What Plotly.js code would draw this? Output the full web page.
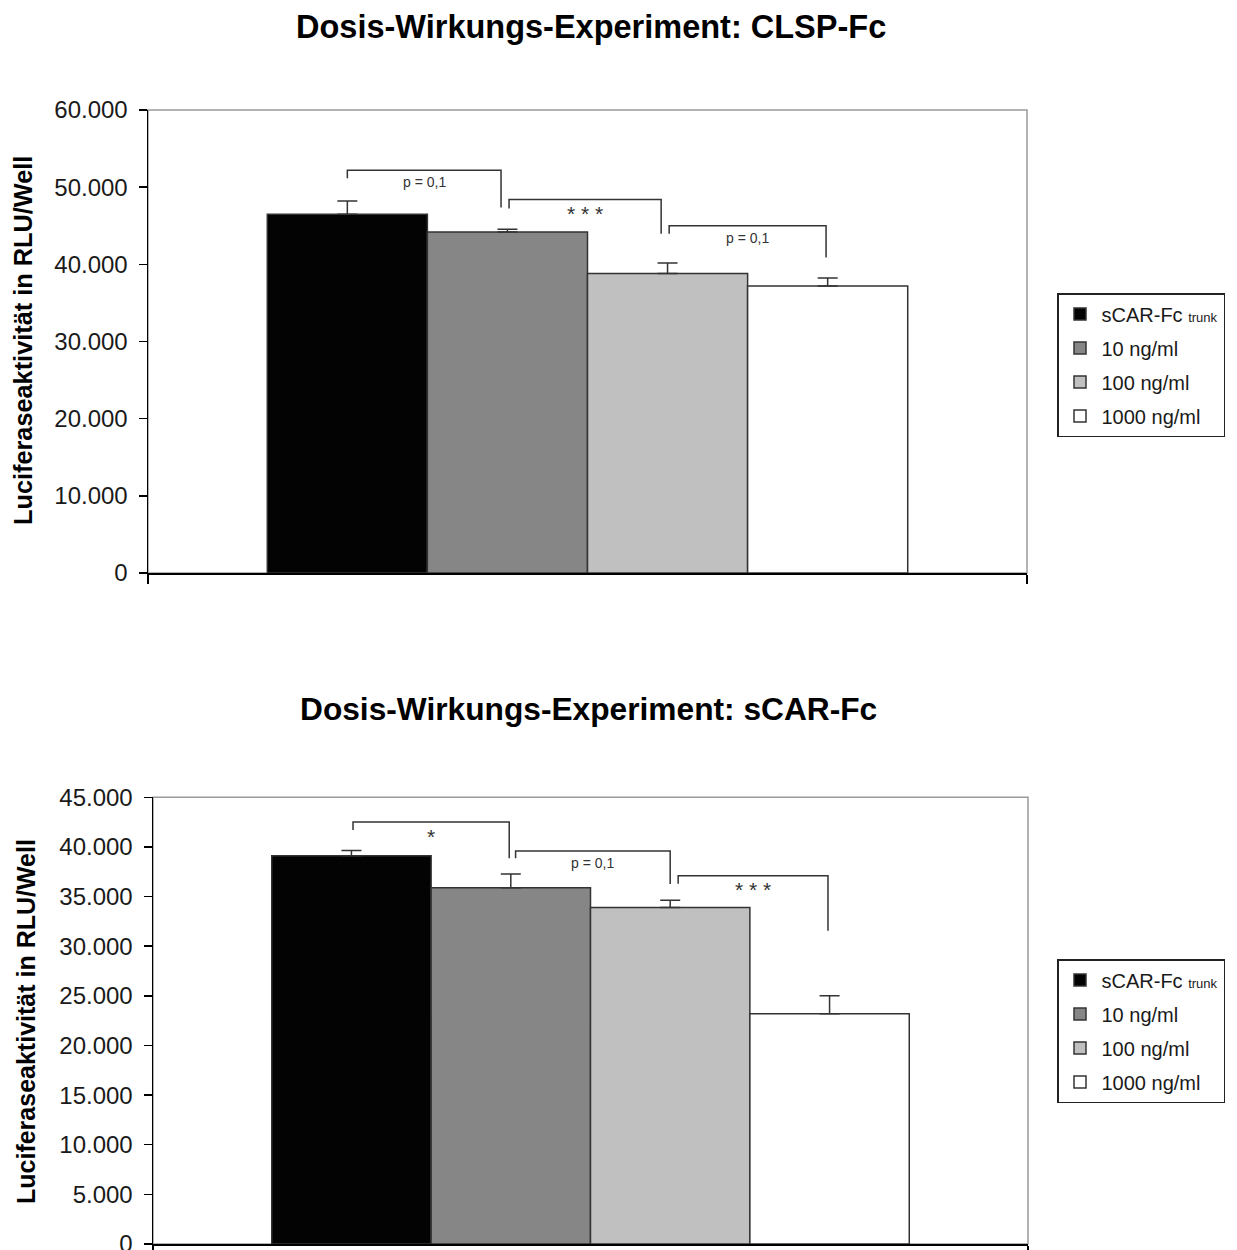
<!DOCTYPE html>
<html><head><meta charset="utf-8">
<script src="https://cdn.plot.ly/plotly-3.0.1.min.js"></script>
<style>html,body{margin:0;padding:0;background:#fff;} #chart{width:1237px;height:1250px;}</style>
</head><body><div id="chart"></div>
<script>
// ---- data ----
const categories = ['sCAR-Fc trunk', '10 ng/ml', '100 ng/ml', '1000 ng/ml'];
const legendLabels = ['sCAR-Fc <span style="font-size:13px">trunk</span>', '10 ng/ml', '100 ng/ml', '1000 ng/ml'];
const clspMeans = [46500, 44200, 38800, 37200];
const clspErrors = [1700, 350, 1380, 1030];
const scarMeans = [39100, 35900, 33900, 23200];
const scarErrors = [530, 1380, 740, 1800];

const clspSigLabels = ['p = 0,1', '* * *', 'p = 0,1'];
const clspSigFrom = [0.0, 1.01, 2.01];
const clspSigTo = [0.96, 1.96, 2.99];
const clspSigTop = [52200, 48400, 45000];
const clspSigLeftEnd = [51150, 47250, 43950];
const clspSigRightEnd = [47350, 43950, 40900];

const scarSigLabels = ['*', 'p = 0,1', '* * *'];
const scarSigFrom = [0.01, 1.03, 2.05];
const scarSigTo = [0.99, 2.0, 2.99];
const scarSigTop = [42500, 39600, 37100];
const scarSigLeftEnd = [41700, 38850, 36300];
const scarSigRightEnd = [38850, 36270, 31560];

const titleTop = 'Dosis-Wirkungs-Experiment: CLSP-Fc';
const titleBottom = 'Dosis-Wirkungs-Experiment: sCAR-Fc';
const yTitle = 'Luciferaseaktivität in RLU/Well';

// ---- styles ----
const barColors = ['#030303', '#868686', '#c0c0c0', '#ffffff'];
const FONT = 'Liberation Sans, Arial, sans-serif';
const INK = '#1a1a1a';

const traces = [];
function addSeries(means, errors, xa, ya, legendId) {
  categories.forEach((c, i) => {
    traces.push({
      type: 'bar', x: [i], y: [means[i]], width: [1],
      name: legendLabels[i], legend: legendId, legendgroup: legendId + i,
      xaxis: xa, yaxis: ya,
      marker: { color: barColors[i], line: { color: '#333', width: 1.5 } },
      error_y: { type: 'data', array: [errors[i]], arrayminus: [0], symmetric: false,
                 color: '#333', thickness: 1.5, width: 10 },
      hoverinfo: 'y'
    });
  });
}
addSeries(clspMeans, clspErrors, 'x', 'y', 'legend');
addSeries(scarMeans, scarErrors, 'x2', 'y2', 'legend2');

const shapes = [];
const annotations = [];
function frame(xr, yr) {
  shapes.push({ type: 'rect', xref: xr + ' domain', yref: yr + ' domain', x0: 0, x1: 1, y0: 0, y1: 1,
    line: { color: '#9a9a9a', width: 1.5 }, layer: 'below' });
}
frame('x', 'y'); frame('x2', 'y2');

function brackets(labels, from, to, top, le, re, xr, yr) {
  labels.forEach((lab, i) => {
    const star = lab.indexOf('*') >= 0;
    shapes.push({ type: 'path', xref: xr, yref: yr,
      path: `M ${from[i]},${le[i]} L ${from[i]},${top[i]} L ${to[i]},${top[i]} L ${to[i]},${re[i]}`,
      line: { color: '#333', width: 1.5 } });
    annotations.push({ xref: xr, yref: yr, x: (from[i] + to[i]) / 2, y: top[i], yshift: star ? -14 : -12,
      text: lab, showarrow: false, xanchor: 'center', yanchor: 'middle',
      font: { family: FONT, size: star ? 21 : 14, color: '#333' } });
  });
}
brackets(clspSigLabels, clspSigFrom, clspSigTo, clspSigTop, clspSigLeftEnd, clspSigRightEnd, 'x', 'y');
brackets(scarSigLabels, scarSigFrom, scarSigTo, scarSigTop, scarSigLeftEnd, scarSigRightEnd, 'x2', 'y2');

annotations.push({ xref: 'paper', yref: 'paper', x: 591 / 1237, y: 1 - 27 / 1250, text: titleTop,
  showarrow: false, xanchor: 'center', yanchor: 'middle',
  font: { family: FONT, size: 32.5, weight: 'bold', color: '#000' } });
annotations.push({ xref: 'paper', yref: 'paper', x: 588 / 1237, y: 1 - 709 / 1250, text: titleBottom,
  showarrow: false, xanchor: 'center', yanchor: 'middle',
  font: { family: FONT, size: 31.7, weight: 'bold', color: '#000' } });
annotations.push({ xref: 'paper', yref: 'paper', x: 23 / 1237, y: 1 - 341 / 1250, text: yTitle,
  textangle: -90, showarrow: false, xanchor: 'center', yanchor: 'middle',
  font: { family: FONT, size: 25.3, weight: 'bold', color: '#000' } });
annotations.push({ xref: 'paper', yref: 'paper', x: 26 / 1237, y: 1 - 1022 / 1250, text: yTitle,
  textangle: -90, showarrow: false, xanchor: 'center', yanchor: 'middle',
  font: { family: FONT, size: 25, weight: 'bold', color: '#000' } });

const XR = [-1.245, 4.245];
function xAxis(domain, anchor) {
  return { domain: domain, anchor: anchor, range: XR, fixedrange: true,
    showline: true, linecolor: '#000', linewidth: 1.5, showgrid: false, zeroline: false,
    tickmode: 'array', tickvals: XR, ticktext: ['', ''], ticks: 'outside', ticklen: 9,
    tickcolor: '#000', tickwidth: 1.5, showticklabels: false };
}
function yAxis(domain, anchor, max, dtick) {
  return { domain: domain, anchor: anchor, range: [0, max], dtick: dtick, tick0: 0,
    showline: true, linecolor: '#000', linewidth: 1.5, showgrid: false, zeroline: false,
    ticks: 'outside', ticklen: 8, tickcolor: '#000', tickwidth: 1.5, ticklabelstandoff: 6,
    ticklabeloverflow: 'allow',
    tickformat: ',d', tickfont: { family: FONT, size: 24, color: INK } };
}

function legendBox(yTop) {
  return { x: 1057 / 1237, y: 1 - yTop / 1250, xanchor: 'left', yanchor: 'top',
    bgcolor: '#fff', bordercolor: '#222', borderwidth: 1.5, traceorder: 'grouped', tracegroupgap: 5,
    itemwidth: 33,
    font: { family: FONT, size: 20, color: INK } };
}

const layout = {
  width: 1237, height: 1250, margin: { l: 0, r: 0, t: 0, b: 0 },
  paper_bgcolor: '#fff', plot_bgcolor: 'rgba(0,0,0,0)',
  separators: ',.', barmode: 'overlay',
  xaxis: xAxis([148 / 1237, 1027 / 1237], 'y'),
  yaxis: yAxis([1 - 573 / 1250, 1 - 110 / 1250], 'x', 60000, 10000),
  xaxis2: xAxis([153 / 1237, 1028 / 1237], 'y2'),
  yaxis2: yAxis([1 - 1244 / 1250, 1 - 797.3 / 1250], 'x2', 45000, 5000),
  legend: legendBox(293),
  legend2: legendBox(959),
  shapes: shapes, annotations: annotations, showlegend: true
};

Plotly.newPlot('chart', traces, layout, { displayModeBar: false, staticPlot: true });
</script>
</body></html>
